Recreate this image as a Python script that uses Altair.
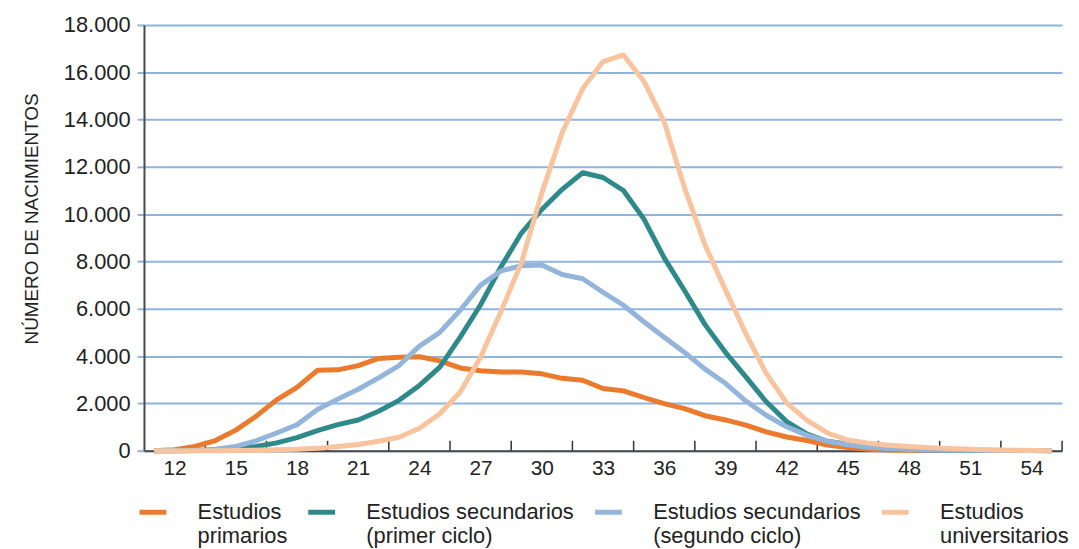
import altair as alt
import pandas as pd

# ---------------- data ----------------
ages = list(range(11, 56))

primarios = [0, 40, 180, 430, 870, 1460, 2150, 2680, 3400, 3420, 3600, 3900, 3950, 3970,
             3800, 3500, 3380, 3330, 3330, 3250, 3060, 2980, 2630, 2530, 2250, 1990, 1780,
             1480, 1300, 1080, 800, 580, 430, 240, 130, 60, 30, 15, 10, 5, 5, 5, 5, 5, 5]

sec_primer = [0, 0, 10, 30, 80, 180, 330, 550, 850, 1100, 1300, 1670, 2130, 2760,
              3530, 4800, 6170, 7780, 9200, 10200, 11050, 11750, 11550, 11000, 9800, 8150,
              6760, 5330, 4160, 3120, 2070, 1230, 700, 400, 270, 170, 90, 50, 30, 20, 10,
              10, 5, 5, 0]

sec_segundo = [0, 0, 10, 60, 180, 420, 750, 1100, 1740, 2180, 2600, 3080, 3600, 4420,
               5000, 5940, 7000, 7600, 7820, 7850, 7450, 7270, 6700, 6150, 5450, 4800,
               4150, 3450, 2850, 2100, 1500, 1010, 650, 400, 250, 150, 90, 50, 30, 20, 15,
               10, 5, 5, 0]

universitarios = [0, 0, 0, 0, 10, 20, 40, 60, 100, 180, 260, 400, 570, 950,
                  1560, 2480, 3960, 5890, 7950, 10900, 13450, 15300, 16450, 16730, 15620,
                  13900, 11100, 8700, 6800, 4950, 3270, 2020, 1280, 750, 450, 320, 230, 180,
                  130, 90, 60, 40, 20, 10, 0]

series_names = ["Estudios|primarios",
                "Estudios secundarios|(primer ciclo)",
                "Estudios secundarios|(segundo ciclo)",
                "Estudios|universitarios"]
series_colors = ["#EB7A2C", "#2E8A8A", "#93B5DC", "#F9C49D"]

x_label_values = list(range(12, 55, 3))
x_tick_marks = [13.5 + 3 * i for i in range(15)]
y_values = list(range(0, 18001, 2000))

# ---------------- table ----------------
rows = []
for order_i, (name, vals) in enumerate(zip(series_names,
                                            [primarios, sec_primer, sec_segundo, universitarios])):
    for a, v in zip(ages, vals):
        rows.append({"edad": a, "nacimientos": v, "serie": name, "ord": order_i})
df = pd.DataFrame(rows)
tick_df = pd.DataFrame({"pos": x_tick_marks})

W, H = 925, 429
FONT = "Liberation Sans"
GRID = "#8FB4E0"

x_scale = alt.Scale(domain=[10.5, 55.5], nice=False, zero=False)

lines = alt.Chart(df).mark_line(strokeWidth=5, strokeJoin="round", strokeCap="butt").encode(
    x=alt.X("edad:Q", scale=x_scale,
            axis=alt.Axis(values=x_label_values, title=None, grid=False, ticks=False,
                          tickSize=0, labelFontSize=21, labelPadding=7,
                          labelColor="#222222", domainColor="#4a4a4a", domainWidth=2,
                          labelFont=FONT)),
    y=alt.Y("nacimientos:Q", scale=alt.Scale(domain=[0, 18000], nice=False),
            axis=alt.Axis(values=y_values, title="NÚMERO DE NACIMIENTOS",
                          labelExpr="replace(format(datum.value, ','), ',', '.')",
                          labelFontSize=22, labelColor="#222222", labelPadding=7,
                          labelFont=FONT,
                          gridColor=GRID, gridWidth=2, gridOpacity=1,
                          tickColor=GRID, tickSize=7, tickWidth=2,
                          domainColor="#4a4a4a", domainWidth=2,
                          titleFontSize=19, titleFontWeight="normal", titleColor="#222222",
                          titleFont=FONT, titlePadding=22, titleY=195)),
    color=alt.Color("serie:N",
                    scale=alt.Scale(domain=series_names, range=series_colors),
                    legend=alt.Legend(title=None, orient="none", legendX=-7, legendY=475,
                                      direction="horizontal", columns=4,
                                      symbolType="M-1,0L1,0", symbolSize=729,
                                      symbolStrokeWidth=5,
                                      labelExpr="split(datum.label, '|')",
                                      labelFontSize=22, labelFont=FONT,
                                      labelColor="#222222", labelOffset=29,
                                      columnPadding=10, labelLimit=400)),
    order=alt.Order("ord:Q"),
)

ticks = alt.Chart(tick_df).mark_rule(color="#333333", strokeWidth=1.5).encode(
    x=alt.X("pos:Q", scale=x_scale),
    y=alt.value(H - 10),
    y2=alt.value(H),
)

chart = alt.layer(ticks, lines).properties(
    width=W, height=H,
    autosize=alt.AutoSizeParams(type="none"),
    padding={"left": 137, "top": 15, "right": 9, "bottom": 100},
).configure(
    font=FONT,
    style={"guide-label": {"lineHeight": 24}},
).configure_view(stroke=None)

chart.save("out.html", embed_options={"renderer": "svg", "actions": False})
